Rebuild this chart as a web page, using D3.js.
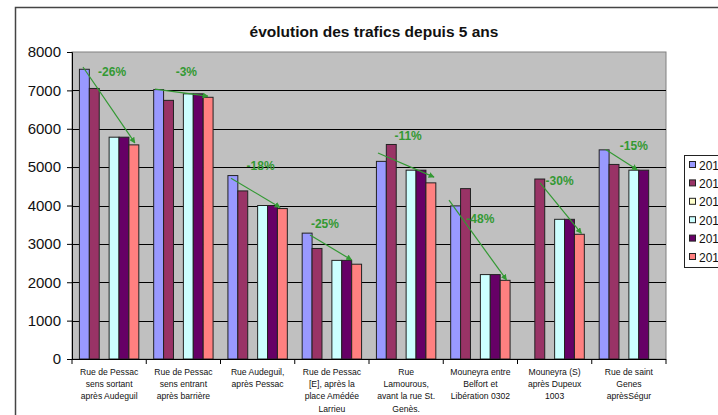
<!DOCTYPE html>
<html>
<head>
<meta charset="utf-8">
<script src="https://cdn.jsdelivr.net/npm/d3@7"></script>
<style>
  html, body { margin: 0; padding: 0; background: #fff; overflow: hidden; }
  svg { display: block; font-family: "Liberation Sans", Arial, sans-serif; }
</style>
</head>
<body>
<svg id="chart" width="718" height="415"></svg>
<script>
// categories (x labels, one line per entry)
const categories = [
  ['Rue de Pessac', 'sens sortant', 'après Audeguil'],
  ['Rue de Pessac', 'sens entrant', 'après barrière'],
  ['Rue Audeguil,', 'après Pessac'],
  ['Rue de Pessac', '[E], après la', 'place Amédée', 'Larrieu'],
  ['Rue', 'Lamourous,', 'avant la rue St.', 'Genès.'],
  ['Mouneyra entre', 'Belfort et', 'Libération 0302'],
  ['Mouneyra (S)', 'après Dupeux', '1003'],
  ['Rue de saint', 'Genes', 'aprèsSégur']
];

const seriesNames = ['2010', '2011', '2012', '2013', '2014', '2015'];
const seriesColors = ['#9999FF', '#993366', '#FFFFCC', '#CCFFFF', '#660066', '#FF8080'];

// values per series (null = no bar)
const s2010 = [7550, 7020, 4780, 3280, 5150, 3990, null, 5450];
const s2011 = [7050, 6740, 4380, 2880, 5590, 4440, 4690, 5070];
const s2012 = [null, null, null, null, null, null, null, null];
const s2013 = [5780, 6910, 4000, 2570, 4920, 2200, 3640, 4920];
const s2014 = [5780, 6910, 4000, 2570, 4920, 2200, 3640, 4920];
const s2015 = [5580, 6820, 3920, 2470, 4590, 2050, 3250, null];
const seriesValues = [s2010, s2011, s2012, s2013, s2014, s2015];

const yTicks = [0, 1000, 2000, 3000, 4000, 5000, 6000, 7000, 8000];

// green trend annotations: label, label value, label offset (bar units), arrow start/end [slot, value]
const trendLabels = ['-26%', '-3%', '-18%', '-25%', '-11%', '-48%', '-30%', '-15%'];
const trendLabelY = [7380, 7380, 4920, 3410, 5700, 3540, 4530, 5450];
const trendLabelSlot = [3.3, 3.3, 3.3, 2.3, 3.2, 3.0, 3.5, 3.5];
const arrowFrom = [[0.36, 7610], [0.13, 7035], [0.31, 4710], [0.79, 3230], [0.16, 5370], [-0.17, 4140], [1.53, 4590], [0.65, 5460]];
const arrowTo = [[5.6, 5630], [5.48, 6850], [5.27, 3950], [5.0, 2580], [5.82, 4740], [5.64, 2060], [5.7, 3275], [3.85, 4930]];

const svg = d3.select('#chart');
const W = 718, H = 415;
const plot = { left: 72, top: 52, right: 666, bottom: 359 };

// chart frame
svg.append('rect')
  .attr('x', 15.5).attr('y', 7.5)
  .attr('width', W + 20).attr('height', H + 20)
  .attr('fill', '#fff')
  .attr('stroke', '#444').attr('stroke-width', 1.5);

// title
svg.append('text')
  .attr('x', 374).attr('y', 37)
  .attr('text-anchor', 'middle')
  .attr('font-size', 15.5)
  .attr('font-weight', 'bold')
  .attr('fill', '#111')
  .text('évolution des trafics depuis 5 ans');

const x = d3.scaleBand()
  .domain(d3.range(categories.length))
  .range([plot.left, plot.right])
  .padding(0);

const bw = x.bandwidth() / 7.5;
const slot = d3.scaleLinear().domain([0, 6]).range([0.75 * bw, 6.75 * bw]);

const y = d3.scaleLinear().domain([0, 8000]).range([plot.bottom, plot.top]);

// plot background
svg.append('rect')
  .attr('x', plot.left).attr('y', plot.top)
  .attr('width', plot.right - plot.left).attr('height', plot.bottom - plot.top)
  .attr('fill', '#C0C0C0')
  .attr('stroke', '#808080').attr('stroke-width', 1);

// gridlines
svg.append('g')
  .selectAll('line')
  .data(yTicks.filter(d => d > 0 && d < 8000))
  .join('line')
  .attr('x1', plot.left).attr('x2', plot.right)
  .attr('y1', d => Math.round(y(d)) + 0.5)
  .attr('y2', d => Math.round(y(d)) + 0.5)
  .attr('stroke', '#000').attr('stroke-width', 1);

// bars
const groups = svg.append('g')
  .selectAll('g')
  .data(categories.map((c, i) => i))
  .join('g')
  .attr('transform', i => `translate(${x(i)},0)`);

groups.selectAll('rect')
  .data(i => seriesValues.map((s, k) => ({ k, v: s[i] })).filter(d => d.v != null))
  .join('rect')
  .attr('x', d => slot(d.k))
  .attr('y', d => y(d.v))
  .attr('width', bw)
  .attr('height', d => y(0) - y(d.v))
  .attr('fill', d => seriesColors[d.k])
  .attr('stroke', '#222').attr('stroke-width', 1);

// y axis
const yAxis = d3.axisLeft(y).tickValues(yTicks).tickSize(5).tickPadding(6).tickFormat(d3.format('d'));
svg.append('g')
  .attr('transform', `translate(${plot.left},0)`)
  .call(yAxis)
  .call(g => g.select('.domain').attr('stroke', '#000'))
  .call(g => g.selectAll('.tick line').attr('stroke', '#000'))
  .call(g => g.selectAll('text').attr('font-size', 15).attr('fill', '#111')
    .attr('font-family', '"Liberation Sans", Arial, sans-serif'));

// x axis (ticks at group boundaries)
svg.append('line')
  .attr('x1', plot.left - 5).attr('x2', plot.right)
  .attr('y1', plot.bottom + 0.5).attr('y2', plot.bottom + 0.5)
  .attr('stroke', '#000');
svg.append('g')
  .selectAll('line')
  .data(d3.range(categories.length + 1))
  .join('line')
  .attr('x1', i => (i < categories.length ? x(i) : plot.right))
  .attr('x2', i => (i < categories.length ? x(i) : plot.right))
  .attr('y1', plot.bottom).attr('y2', plot.bottom + 5)
  .attr('stroke', '#000');

// x labels
const xl = svg.append('g')
  .selectAll('text')
  .data(categories)
  .join('text')
  .attr('text-anchor', 'middle')
  .attr('font-size', 8.6)
  .attr('fill', '#111')
  .attr('transform', (d, i) => `translate(${x(i) + x.bandwidth() / 2},${plot.bottom + 16})`);
xl.selectAll('tspan')
  .data(d => d)
  .join('tspan')
  .attr('x', 0)
  .attr('dy', (d, j) => (j === 0 ? 0 : 12.2))
  .text(d => d);

// trend arrows
const green = '#339933';
svg.append('defs').append('marker')
  .attr('id', 'arrow-trend')
  .attr('viewBox', '0 -5 10 10')
  .attr('refX', 9).attr('refY', 0)
  .attr('markerWidth', 5).attr('markerHeight', 5)
  .attr('orient', 'auto')
  .append('path')
  .attr('d', 'M0,-5L10,0L0,5')
  .attr('fill', green);

svg.append('g')
  .selectAll('line')
  .data(d3.range(categories.length))
  .join('line')
  .attr('x1', i => x(i) + slot(arrowFrom[i][0]))
  .attr('y1', i => y(arrowFrom[i][1]))
  .attr('x2', i => x(i) + slot(arrowTo[i][0]))
  .attr('y2', i => y(arrowTo[i][1]))
  .attr('stroke', green).attr('stroke-width', 1.2)
  .attr('marker-end', 'url(#arrow-trend)');

svg.append('g')
  .selectAll('text')
  .data(trendLabels)
  .join('text')
  .attr('x', (d, i) => x(i) + slot(trendLabelSlot[i]))
  .attr('y', (d, i) => y(trendLabelY[i]))
  .attr('text-anchor', 'middle')
  .attr('font-size', 12)
  .attr('font-weight', 'bold')
  .attr('fill', green)
  .text(d => d);

// legend (clipped by the right edge like the original)
const legend = svg.append('g').attr('transform', 'translate(684,155)');
legend.append('rect')
  .attr('x', 0.5).attr('y', 0.5)
  .attr('width', 80).attr('height', 112)
  .attr('fill', '#fff')
  .attr('stroke', '#222').attr('stroke-width', 1);
const li = legend.selectAll('g.item')
  .data(seriesNames)
  .join('g')
  .attr('class', 'item')
  .attr('transform', (d, i) => `translate(5,${10 + i * 18.4})`);
li.append('rect')
  .attr('x', 0.5).attr('y', -3.5)
  .attr('width', 6).attr('height', 6)
  .attr('fill', (d, i) => seriesColors[i])
  .attr('stroke', '#222').attr('stroke-width', 1);
li.append('text')
  .attr('x', 10).attr('y', 4.5)
  .attr('font-size', 12)
  .attr('fill', '#111')
  .text(d => d);
</script>
</body>
</html>
